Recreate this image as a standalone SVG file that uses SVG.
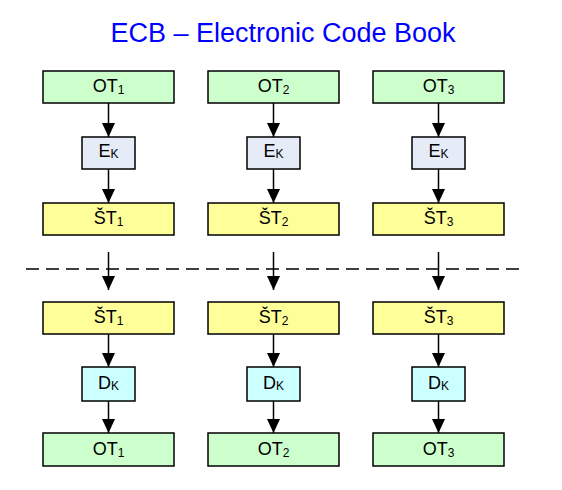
<svg xmlns="http://www.w3.org/2000/svg" width="562" height="490" viewBox="0 0 562 490">
<style>
  .box { stroke: #000; stroke-width: 1.5; }
  .ot { fill: #ccffcc; }
  .st { fill: #ffff99; }
  .ek { fill: #e6ecf7; }
  .dk { fill: #ccffff; }
  .lbl { font-family: "Liberation Sans", Arial, sans-serif; font-size: 18px; fill: #000; text-anchor: middle; }
  .sub { font-size: 12px; }
  .title { font-family: "Liberation Sans", Arial, sans-serif; font-size: 27px; fill: #0000ff; text-anchor: middle; }
  .con { stroke: #000; stroke-width: 1.5; fill: none; marker-end: url(#ah); }
  .dash { stroke: #000; stroke-width: 1.5; stroke-dasharray: 13 7; fill: none; }
</style>
<defs>
  <marker id="ah" markerUnits="userSpaceOnUse" markerWidth="14" markerHeight="14" refX="14" refY="6.5" orient="auto" viewBox="0 0 14 13">
    <path d="M0,0 L14,6.5 L0,13 Z" fill="#000"/>
  </marker>
</defs>
<text class="title" x="283" y="42">ECB – Electronic Code Book</text>

<g id="connectors">
  <line class="dash" x1="26" y1="269" x2="522" y2="269"/>
  <line class="con" x1="108.5" y1="103" x2="108.5" y2="137"/>
  <line class="con" x1="108.5" y1="169" x2="108.5" y2="203"/>
  <line class="con" x1="108.5" y1="252" x2="108.5" y2="290"/>
  <line class="con" x1="108.5" y1="334" x2="108.5" y2="367"/>
  <line class="con" x1="108.5" y1="401" x2="108.5" y2="433"/>
  <line class="con" x1="273.5" y1="103" x2="273.5" y2="137"/>
  <line class="con" x1="273.5" y1="169" x2="273.5" y2="203"/>
  <line class="con" x1="273.5" y1="252" x2="273.5" y2="290"/>
  <line class="con" x1="273.5" y1="334" x2="273.5" y2="367"/>
  <line class="con" x1="273.5" y1="401" x2="273.5" y2="433"/>
  <line class="con" x1="438.5" y1="103" x2="438.5" y2="137"/>
  <line class="con" x1="438.5" y1="169" x2="438.5" y2="203"/>
  <line class="con" x1="438.5" y1="252" x2="438.5" y2="290"/>
  <line class="con" x1="438.5" y1="334" x2="438.5" y2="367"/>
  <line class="con" x1="438.5" y1="401" x2="438.5" y2="433"/>
</g>

<!-- column 1 -->
<g id="ot1-top"><rect class="box ot" x="43" y="71" width="131" height="32"/><text class="lbl" x="108.5" y="92">OT<tspan class="sub" dy="2">1</tspan></text></g>
<g id="ek1"><rect class="box ek" x="82" y="137" width="53" height="32"/><text class="lbl" x="108.5" y="157">E<tspan class="sub" dy="1">K</tspan></text></g>
<g id="st1-top"><rect class="box st" x="43" y="203" width="131" height="32"/><text class="lbl" x="108.5" y="224">ŠT<tspan class="sub" dy="2">1</tspan></text></g>
<g id="st1-bot"><rect class="box st" x="43" y="302" width="131" height="32"/><text class="lbl" x="108.5" y="323">ŠT<tspan class="sub" dy="2">1</tspan></text></g>
<g id="dk1"><rect class="box dk" x="82" y="367" width="53" height="34"/><text class="lbl" x="108.5" y="389">D<tspan class="sub" dy="1">K</tspan></text></g>
<g id="ot1-bot"><rect class="box ot" x="43" y="433" width="131" height="33"/><text class="lbl" x="108.5" y="455">OT<tspan class="sub" dy="2">1</tspan></text></g>

<!-- column 2 -->
<g id="ot2-top"><rect class="box ot" x="208" y="71" width="131" height="32"/><text class="lbl" x="273.5" y="92">OT<tspan class="sub" dy="2">2</tspan></text></g>
<g id="ek2"><rect class="box ek" x="247" y="137" width="53" height="32"/><text class="lbl" x="273.5" y="157">E<tspan class="sub" dy="1">K</tspan></text></g>
<g id="st2-top"><rect class="box st" x="208" y="203" width="131" height="32"/><text class="lbl" x="273.5" y="224">ŠT<tspan class="sub" dy="2">2</tspan></text></g>
<g id="st2-bot"><rect class="box st" x="208" y="302" width="131" height="32"/><text class="lbl" x="273.5" y="323">ŠT<tspan class="sub" dy="2">2</tspan></text></g>
<g id="dk2"><rect class="box dk" x="247" y="367" width="53" height="34"/><text class="lbl" x="273.5" y="389">D<tspan class="sub" dy="1">K</tspan></text></g>
<g id="ot2-bot"><rect class="box ot" x="208" y="433" width="131" height="33"/><text class="lbl" x="273.5" y="455">OT<tspan class="sub" dy="2">2</tspan></text></g>

<!-- column 3 -->
<g id="ot3-top"><rect class="box ot" x="373" y="71" width="131" height="32"/><text class="lbl" x="438.5" y="92">OT<tspan class="sub" dy="2">3</tspan></text></g>
<g id="ek3"><rect class="box ek" x="412" y="137" width="53" height="32"/><text class="lbl" x="438.5" y="157">E<tspan class="sub" dy="1">K</tspan></text></g>
<g id="st3-top"><rect class="box st" x="373" y="203" width="131" height="32"/><text class="lbl" x="438.5" y="224">ŠT<tspan class="sub" dy="2">3</tspan></text></g>
<g id="st3-bot"><rect class="box st" x="373" y="302" width="131" height="32"/><text class="lbl" x="438.5" y="323">ŠT<tspan class="sub" dy="2">3</tspan></text></g>
<g id="dk3"><rect class="box dk" x="412" y="367" width="53" height="34"/><text class="lbl" x="438.5" y="389">D<tspan class="sub" dy="1">K</tspan></text></g>
<g id="ot3-bot"><rect class="box ot" x="373" y="433" width="131" height="33"/><text class="lbl" x="438.5" y="455">OT<tspan class="sub" dy="2">3</tspan></text></g>
</svg>
